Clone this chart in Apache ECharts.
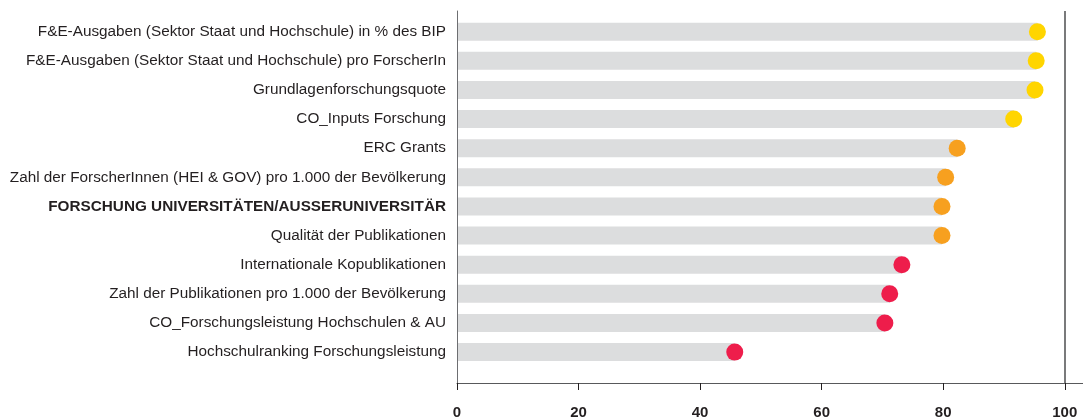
<!DOCTYPE html>
<html>
<head>
<meta charset="utf-8">
<script src="https://cdn.jsdelivr.net/npm/echarts@6/dist/echarts.min.js"></script>
<style>
  html, body { margin: 0; padding: 0; background: #fff; }
  #chart { width: 1083px; height: 420px; }
</style>
</head>
<body>
<div id="chart"></div>
<script>
// indicator names, top to bottom
var categories = [
  'F&E-Ausgaben (Sektor Staat und Hochschule) in % des BIP',
  'F&E-Ausgaben (Sektor Staat und Hochschule) pro ForscherIn',
  'Grundlagenforschungsquote',
  'CO_Inputs Forschung',
  'ERC Grants',
  'Zahl der ForscherInnen (HEI & GOV) pro 1.000 der Bevölkerung',
  'FORSCHUNG UNIVERSITÄTEN/AUSSERUNIVERSITÄR',
  'Qualität der Publikationen',
  'Internationale Kopublikationen',
  'Zahl der Publikationen pro 1.000 der Bevölkerung',
  'CO_Forschungsleistung Hochschulen & AU',
  'Hochschulranking Forschungsleistung'
]
var scores = [95.5, 95.3, 95.1, 91.6, 82.3, 80.4, 79.8, 79.8, 73.2, 71.2, 70.4, 45.7]
var xTicks = [0, 20, 40, 60, 80, 100]

var rowIdx = categories.map(function (c, i) { return i })

function dotColor (v) {
  if (v >= 90) return '#FFD500'
  if (v >= 75) return '#F7A01F'
  return '#EE1D4B'
}

var chart = echarts.init(document.getElementById('chart'))
var option = {
  animation: false,
  grid: { left: 457, right: 0, top: 11, bottom: 36 },
  xAxis: {
    type: 'value',
    min: 0,
    max: 103,
    z: 5,
    splitLine: { show: false },
    axisLine: { show: true, onZero: false, lineStyle: { color: '#58595b', width: 1 } },
    axisTick: { show: true, customValues: xTicks, length: 7, lineStyle: { color: '#231f20' } },
    axisLabel: {
      customValues: xTicks,
      margin: 22,
      color: '#231f20',
      fontWeight: 'bold',
      fontSize: 15,
      fontFamily: '"Liberation Sans", Arial, sans-serif'
    }
  },
  yAxis: {
    type: 'value',
    inverse: true,
    min: -0.71,
    max: 12.06,
    z: 5,
    splitLine: { show: false },
    axisLine: { show: true, onZero: false, lineStyle: { color: '#6d6e71', width: 1 } },
    axisTick: { show: false },
    axisLabel: {
      customValues: rowIdx,
      margin: 11,
      color: '#231f20',
      fontSize: 15.3,
      fontFamily: '"Liberation Sans", Arial, sans-serif',
      formatter: function (v) {
        var name = categories[v]
        if (name === name.toUpperCase()) return '{b|' + name + '}'
        return name
      },
      rich: {
        b: {
          fontWeight: 'bold',
          fontSize: 15.3,
          color: '#231f20',
          fontFamily: '"Liberation Sans", Arial, sans-serif'
        }
      }
    }
  },
  series: [
    {
      // grey bars from 0 to score
      type: 'custom',
      data: scores.map(function (v, i) { return [v, i] }),
      renderItem: function (params, api) {
        var end = api.coord([api.value(0), api.value(1)])
        var start = api.coord([0, api.value(1)])
        var h = 18
        return {
          type: 'rect',
          shape: { x: start[0], y: end[1] - h / 2, width: end[0] - start[0], height: h },
          style: { fill: '#dcddde' }
        }
      },
      markLine: {
        silent: true,
        symbol: 'none',
        label: { show: false },
        lineStyle: { color: '#58595b', width: 1.6, type: 'solid' },
        data: [{ xAxis: 100 }]
      },
      z: 1
    },
    {
      type: 'scatter',
      symbol: 'circle',
      symbolSize: 17,
      data: scores.map(function (v, i) { return [v, i] }),
      itemStyle: {
        opacity: 1,
        color: function (p) { return dotColor(p.value[0]) }
      },
      z: 3
    }
  ]
}
chart.setOption(option)
</script>
</body>
</html>
